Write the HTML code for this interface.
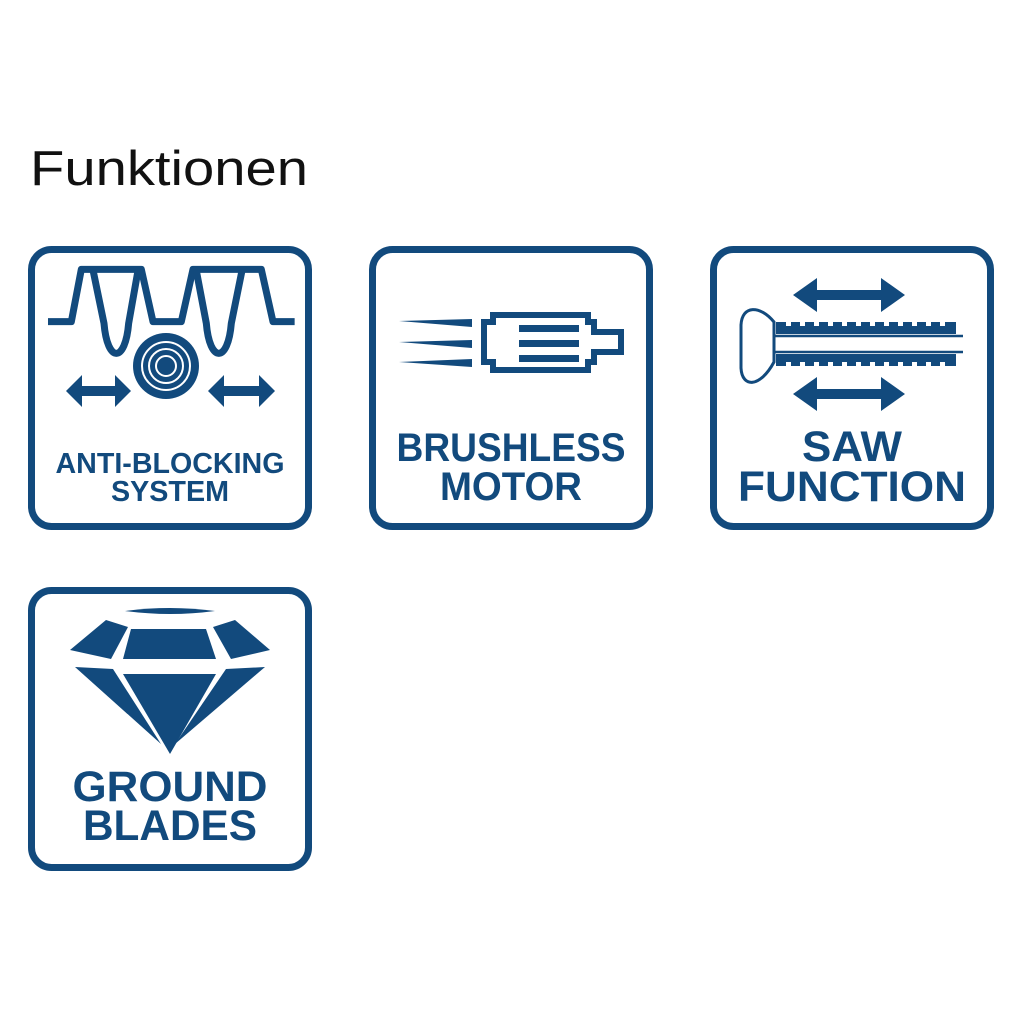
<!DOCTYPE html>
<html><head><meta charset="utf-8"><style>html,body{margin:0;padding:0;background:#fff}svg{display:block}</style></head>
<body>
<svg width="1024" height="1024" viewBox="0 0 1024 1024" xmlns="http://www.w3.org/2000/svg">
<rect width="1024" height="1024" fill="#fff"/>
<text x="30" y="185" font-family="Liberation Sans, sans-serif" font-size="49" fill="#111" textLength="278" lengthAdjust="spacingAndGlyphs">Funktionen</text>
<g fill="none" stroke="#124a7d" stroke-width="7">
<rect x="31.5" y="249.5" width="277" height="277" rx="20"/>
<rect x="372.5" y="249.5" width="277" height="277" rx="20"/>
<rect x="713.5" y="249.5" width="277" height="277" rx="20"/>
<rect x="31.5" y="590.5" width="277" height="277" rx="20"/>
</g>
<g fill="#124a7d" font-family="Liberation Sans, Arial, sans-serif" font-weight="bold" text-anchor="middle">
<text x="170" y="473" font-size="29" textLength="229" lengthAdjust="spacingAndGlyphs">ANTI-BLOCKING</text>
<text x="170" y="501" font-size="29" textLength="118" lengthAdjust="spacingAndGlyphs">SYSTEM</text>
<text x="511" y="461" font-size="40" textLength="229" lengthAdjust="spacingAndGlyphs">BRUSHLESS</text>
<text x="511" y="500" font-size="40" textLength="142" lengthAdjust="spacingAndGlyphs">MOTOR</text>
<text x="852" y="461" font-size="43" textLength="100" lengthAdjust="spacingAndGlyphs">SAW</text>
<text x="852" y="501" font-size="43" textLength="228" lengthAdjust="spacingAndGlyphs">FUNCTION</text>
<text x="170" y="801" font-size="43" textLength="195" lengthAdjust="spacingAndGlyphs">GROUND</text>
<text x="170" y="840" font-size="43" textLength="174" lengthAdjust="spacingAndGlyphs">BLADES</text>
</g>
<!-- anti-blocking icon -->
<g transform="translate(28,240) scale(0.3333)" fill="none" stroke="#124a7d" stroke-width="21" stroke-linejoin="round">
<path d="M60,245 H130 L160,88 H340 L375,245 H460 L495,88 H700 L735,245 H800"/>
<path d="M195,90 L228,250 C238,370 292,370 302,250 L330,92"/>
<path d="M505,92 L535,250 C545,370 600,370 610,250 L642,92"/>
</g>
<circle cx="166" cy="366" r="33" fill="#124a7d"/>
<circle cx="166" cy="366" r="24" fill="none" stroke="#fff" stroke-width="2"/>
<circle cx="166" cy="366" r="17" fill="none" stroke="#fff" stroke-width="2"/>
<circle cx="166" cy="366" r="10" fill="none" stroke="#fff" stroke-width="2"/>
<g fill="#124a7d">
<path d="M66,391 L82,375 V386 H115 V375 L131,391 L115,407 V396 H82 V407 Z"/>
<path d="M208,391 L224,375 V386 H259 V375 L275,391 L259,407 V396 H224 V407 Z"/>
<!-- motor -->
<path d="M399,321 L472,319 V327 Z"/>
<path d="M399,342 L472,340 V348 Z"/>
<path d="M399,362 L472,359 V367 Z"/>
<rect x="519" y="325" width="60" height="7"/>
<rect x="519" y="340" width="60" height="7"/>
<rect x="519" y="355" width="60" height="7"/>
</g>
<path d="M493,315 H588 V322 H594 V332 H621 V352 H594 V362 H588 V370 H493 V362 H484 V322 H493 Z" fill="none" stroke="#124a7d" stroke-width="6"/>
<!-- saw -->
<g fill="#124a7d">
<path d="M793,295 L817,278 V290 H881 V278 L905,295 L881,312 V300 H817 V312 Z"/>
<path d="M793,394 L817,377 V389 H881 V377 L905,394 L881,411 V399 H817 V411 Z"/>
</g>
<g fill="none" stroke="#124a7d" stroke-width="3">
<path d="M774,322 C760,305 742,305 741,325 V368 C742,388 760,388 774,362 Z"/>
<path d="M774,336 H963 M774,352 H963" stroke-width="2.5"/>
</g>
<g fill="#124a7d">
<rect x="776" y="322" width="180" height="12"/>
<rect x="776" y="354" width="180" height="12"/>
</g>
<g fill="#fff">
<rect x="786" y="318" width="5" height="8"/><rect x="800" y="318" width="5" height="8"/><rect x="814" y="318" width="5" height="8"/><rect x="828" y="318" width="5" height="8"/><rect x="842" y="318" width="5" height="8"/><rect x="856" y="318" width="5" height="8"/><rect x="870" y="318" width="5" height="8"/><rect x="884" y="318" width="5" height="8"/><rect x="898" y="318" width="5" height="8"/><rect x="912" y="318" width="5" height="8"/><rect x="926" y="318" width="5" height="8"/><rect x="940" y="318" width="5" height="8"/>
<rect x="786" y="362" width="5" height="8"/><rect x="800" y="362" width="5" height="8"/><rect x="814" y="362" width="5" height="8"/><rect x="828" y="362" width="5" height="8"/><rect x="842" y="362" width="5" height="8"/><rect x="856" y="362" width="5" height="8"/><rect x="870" y="362" width="5" height="8"/><rect x="884" y="362" width="5" height="8"/><rect x="898" y="362" width="5" height="8"/><rect x="912" y="362" width="5" height="8"/><rect x="926" y="362" width="5" height="8"/><rect x="940" y="362" width="5" height="8"/>
</g>
<!-- diamond -->
<g fill="#124a7d">
<path d="M125,611 Q170,605 215,611 Q170,617 125,611 Z"/>
<path d="M70,650 L106,620 L128,627 L111,659 Z"/>
<path d="M123,659 L131,629 H206 L216,659 Z"/>
<path d="M213,627 L235,620 L270,650 L231,659 Z"/>
<path d="M75,667 L113,669 L161,744 Z"/>
<path d="M123,674 H216 L170,754 Z"/>
<path d="M226,669 L265,667 L175,744 Z"/>
</g>
</svg>
</body></html>
